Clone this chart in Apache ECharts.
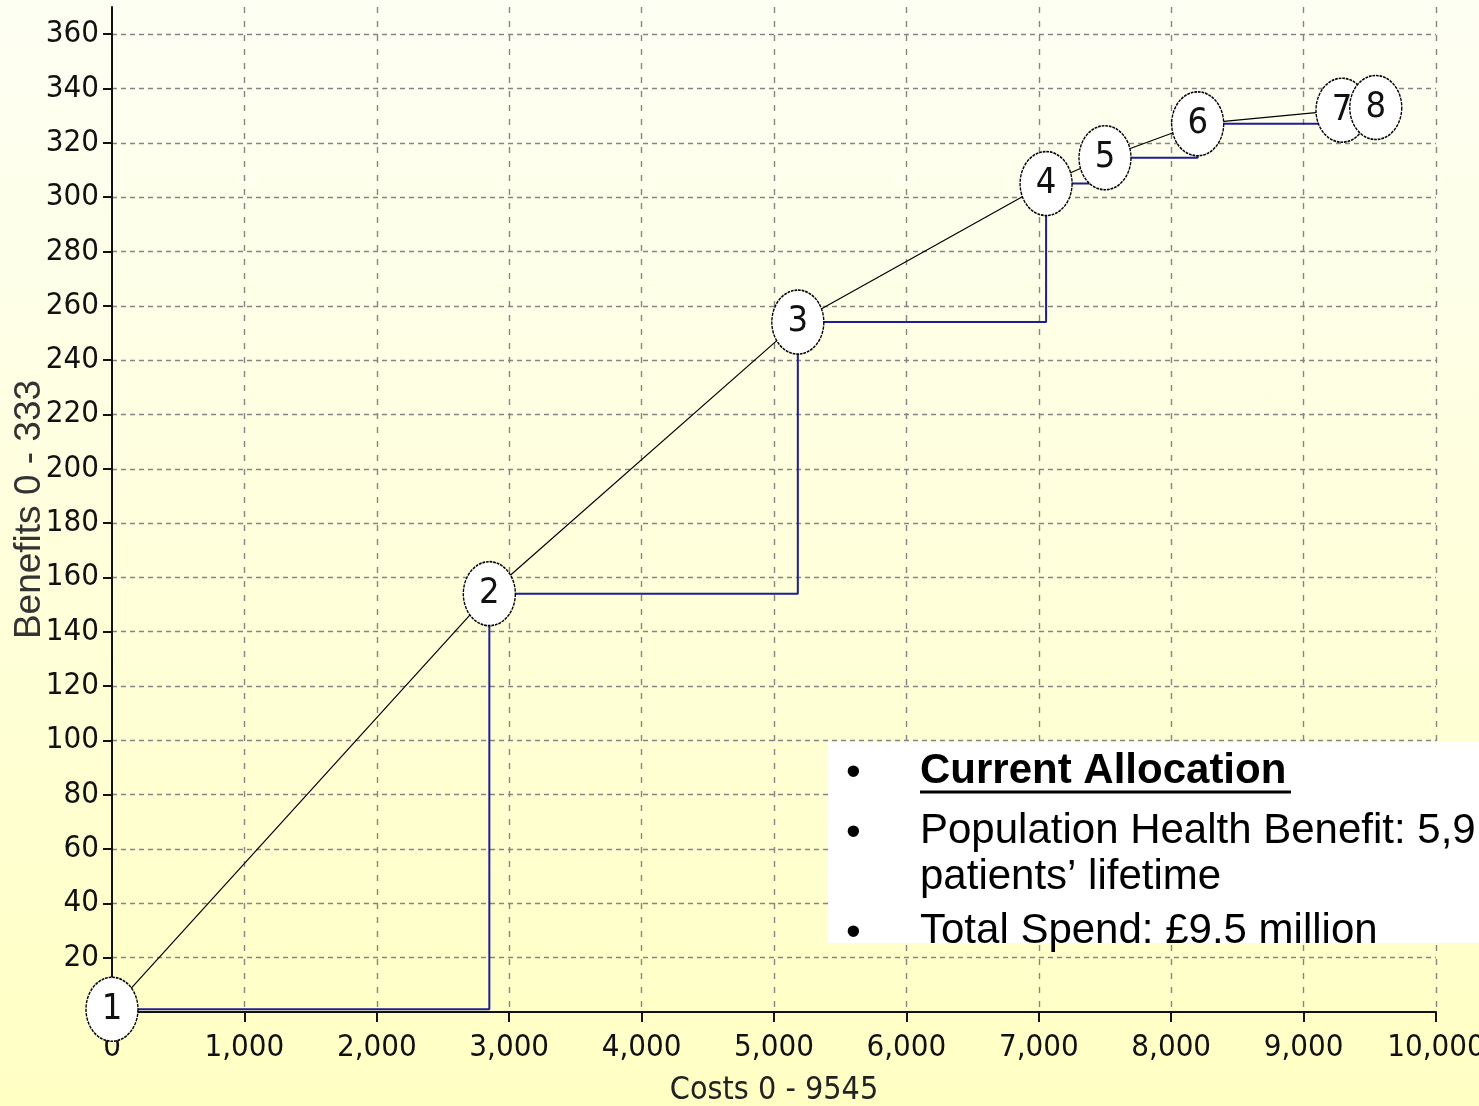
<!DOCTYPE html>
<html><head><meta charset="utf-8">
<script src="https://cdn.jsdelivr.net/npm/echarts@6/dist/echarts.min.js"></script>
<style>
html,body{margin:0;padding:0;}
#chart{width:1479px;height:1106px;background:linear-gradient(to bottom,#fefff4 0%,#ffffdc 50%,#ffffc4 100%);}
</style></head><body><div id="chart"></div>
<script>
// ---- data ----
const pointLabels = ['1','2','3','4','5','6','7','8'];
const costs = [0, 2850, 5180, 7055, 7500, 8200, 9290, 9545];
const benefits = [1, 154, 254, 305, 314.5, 327, 332, 333];
const xTicks = [0,1000,2000,3000,4000,5000,6000,7000,8000,9000,10000];
const yTicks = [0,20,40,60,80,100,120,140,160,180,200,220,240,260,280,300,320,340,360];
const xName = 'Costs 0 - 9545';
const yName = 'Benefits 0 - 333';
const noteTitle = 'Current Allocation';
const noteLines = ['Population Health Benefit: 5,9', 'patients\u2019 lifetime', 'Total Spend: \u00a39.5 million'];

const NARROW = '"Liberation Sans Narrow","DejaVu Sans Condensed","Arial Narrow",sans-serif';
const SANS = '"Liberation Sans",Arial,sans-serif';
const pts = costs.map((c, i) => [c, benefits[i]]);

const chart = echarts.init(document.getElementById('chart'), null, {renderer: 'canvas'});
chart.setOption({
  backgroundColor: 'transparent',
  animation: false,
  grid: {left: 112, right: 43, top: 7, bottom: 94, containLabel: false, outerBoundsMode: 'none'},
  xAxis: {
    type: 'value', min: 0, max: 10000, interval: 1000,
    name: xName, nameLocation: 'middle', nameGap: 63, nameMoveOverlap: false,
    nameTextStyle: {fontFamily: NARROW, fontSize: 32, color: '#222'},
    axisLine: {show: true, lineStyle: {color: '#111', width: 2}},
    axisTick: {show: true, length: 10, lineStyle: {color: '#111', width: 2}, customValues: xTicks},
    axisLabel: {customValues: xTicks, fontFamily: NARROW, fontSize: 31, color: '#111', margin: 20,
      formatter: v => v.toLocaleString('en-US')},
    splitLine: {show: true, showMinLine: false, lineStyle: {color: '#858585', width: 1.4, type: [6, 8]}}
  },
  yAxis: {
    type: 'value', min: 0, max: 370, interval: 20,
    name: yName, nameLocation: 'middle', nameGap: 64, nameMoveOverlap: false,
    nameTextStyle: {fontFamily: SANS, fontSize: 37, color: '#333'},
    axisLine: {show: true, lineStyle: {color: '#111', width: 2}},
    axisTick: {show: true, length: 9, lineStyle: {color: '#111', width: 2}, customValues: yTicks},
    axisLabel: {customValues: yTicks, showMinLabel: false, fontFamily: NARROW, fontSize: 31, color: '#111', margin: 13},
    splitLine: {show: true, showMinLine: false, lineStyle: {color: '#858585', width: 1.4, type: [5, 4]}}
  },
  series: [
    {type: 'line', data: pts, symbol: 'none', lineStyle: {color: '#000', width: 1.2}, z: 3, silent: true},
    {type: 'line', data: pts, step: 'end', symbol: 'none', lineStyle: {color: '#1e1e96', width: 2}, z: 4, silent: true},
    {type: 'scatter', clip: false, z: 5,
      data: pts.map((p, i) => ({value: p, name: pointLabels[i]})),
      symbol: 'circle', symbolSize: [52, 64],
      itemStyle: {color: '#ffffff', borderColor: '#000', borderWidth: 1.5, borderType: [3, 1], opacity: 1},
      label: {show: true, position: 'inside', formatter: '{b}', fontFamily: NARROW, fontSize: 36, color: '#111'}
    }
  ],
  graphic: [
    {type: 'rect', z: 100, shape: {x: 828, y: 742, width: 660, height: 201}, style: {fill: '#ffffff'}},
    {type: 'text', z: 101, x: 846, y: 773, style: {text: '\u2022', font: '42px ' + SANS, fill: '#000', verticalAlign: 'middle'}},
    {type: 'text', z: 101, x: 920, y: 771, style: {text: noteTitle, font: 'bold 42px ' + SANS, fill: '#000', verticalAlign: 'middle'}},
    {type: 'line', z: 101, shape: {x1: 920, y1: 792, x2: 1291, y2: 792}, style: {stroke: '#000', lineWidth: 3}},
    {type: 'text', z: 101, x: 846, y: 833, style: {text: '\u2022', font: '42px ' + SANS, fill: '#000', verticalAlign: 'middle'}},
    {type: 'text', z: 101, x: 920, y: 831, style: {text: noteLines[0], font: '42px ' + SANS, fill: '#000', verticalAlign: 'middle'}},
    {type: 'text', z: 101, x: 920, y: 877, style: {text: noteLines[1], font: '42px ' + SANS, fill: '#000', verticalAlign: 'middle'}},
    {type: 'text', z: 101, x: 846, y: 933, style: {text: '\u2022', font: '42px ' + SANS, fill: '#000', verticalAlign: 'middle'}},
    {type: 'text', z: 101, x: 920, y: 931, style: {text: noteLines[2], font: '42px ' + SANS, fill: '#000', verticalAlign: 'middle'}}
  ]
});
</script></body></html>
